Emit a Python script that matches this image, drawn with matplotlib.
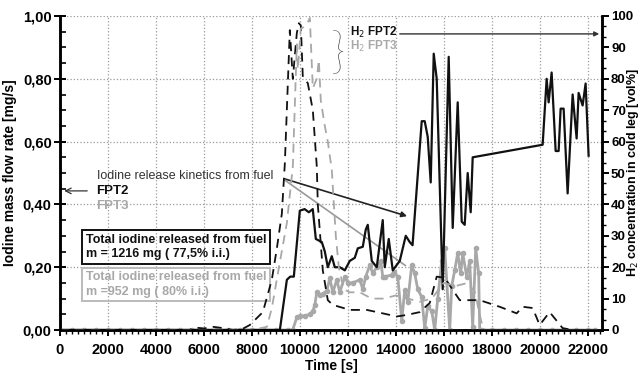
import numpy as np
import matplotlib
matplotlib.use("Agg")
import matplotlib.pyplot as plt
from matplotlib.ticker import MultipleLocator, AutoMinorLocator

plt.rcParams["font.family"] = ["Liberation Sans", "DejaVu Sans"]

# FPT2 iodine mass flow rate [mg/s] (left axis)
t_i2 = [0, 9167, 9460, 9600, 9750, 10000, 10200, 10375, 10540, 10667, 10917, 11042,
        11167, 11333, 11458, 11667, 11875, 12083, 12292, 12417, 12625, 12750, 12833,
        13000, 13208, 13458, 13542, 13708, 13875, 14167, 14417, 14583, 14700, 15083,
        15208, 15333, 15458, 15583, 15708, 15958, 16208, 16375, 16583, 16750, 16875,
        17000, 17125, 17208, 20125, 20292, 20375, 20500, 20667, 20792, 20875, 21000,
        21167, 21375, 21542, 21625, 21792, 21917, 22042]
i2 = [0, 0, 0.16, 0.17, 0.17, 0.38, 0.385, 0.375, 0.385, 0.29, 0.28, 0.25,
      0.20, 0.235, 0.20, 0.20, 0.19, 0.22, 0.23, 0.26, 0.265, 0.32, 0.335,
      0.22, 0.20, 0.35, 0.20, 0.29, 0.19, 0.22, 0.30, 0.28, 0.27, 0.665,
      0.665, 0.615, 0.47, 0.88, 0.80, 0.13, 0.87, 0.325, 0.725, 0.345, 0.335,
      0.50, 0.375, 0.55, 0.59, 0.80, 0.725, 0.82, 0.57, 0.57, 0.705, 0.705,
      0.435, 0.75, 0.61, 0.755, 0.715, 0.785, 0.555]

# FPT3 iodine mass flow rate [mg/s] (left axis)
t_i3 = [0, 500, 1000, 1500, 2000, 2500, 3000, 3500, 4000, 4500, 5000, 5500, 6000,
        6500, 7000, 7500, 8000, 8500, 9000, 9500, 9700, 9875, 10000, 10208, 10417,
        10542, 10625, 10708, 10833, 10958, 11125, 11250, 11375, 11542, 11667, 11875,
        12000, 12208, 12500, 12625, 12750, 12917, 13042, 13208, 13375, 13458, 13542,
        13833, 13917, 14083, 14250, 14375, 14500, 14667, 14792, 14917, 15083, 15208,
        15333, 15500, 15625, 15750, 15917, 16042, 16250, 16333, 16458, 16583, 16708,
        16792, 16958, 17083, 17208, 17333, 17458, 17500, 17600, 18000, 18500, 19000,
        19500, 20000, 20500, 21000, 21500, 22000, 22300]
i3 = [0, 0, 0, 0, 0, 0, 0, 0, 0, 0, 0, 0, 0,
      0, 0, 0, 0, 0, 0, 0, 0, 0.04, 0.045, 0.045, 0.05,
      0.06, 0.08, 0.12, 0.11, 0.115, 0.125, 0.165, 0.12, 0.16, 0.12, 0.17,
      0.15, 0.15, 0.16, 0.13, 0.17, 0.207, 0.18, 0.20, 0.22, 0.17, 0.17,
      0.175, 0.185, 0.17, 0.03, 0.127, 0.09, 0.207, 0.18, 0.13, 0.105, 0.005,
      0.075, 0.06, 0.0, 0.10, 0.22, 0.26, 0.0, 0.14, 0.19, 0.245, 0.18,
      0.245, 0.17, 0.22, 0.01, 0.26, 0.18, 0.0, 0, 0, 0, 0,
      0, 0, 0, 0, 0, 0, 0]

# H2 concentration in cold leg [vol%] (right axis)
t_h2 = [0, 5400, 5600, 6000, 6400, 6800, 7200, 7600, 7917, 8458, 8833, 9042, 9250,
        9375, 9583, 9708, 9875, 9958, 10042, 10125, 10333, 10542, 10708, 10750, 10958,
        11167, 11375, 12083, 12792, 13458, 14042, 14458, 15000, 15417, 15708, 16042,
        16667, 17500, 18333, 19042, 19292, 19708, 20000, 20417, 20958, 21375, 22083]
h2 = [0, 0, 0.8, 0.5, 1.0, 0.6, 0, 0.3, 1.6, 5.7, 16, 26, 37,
      53, 95.5, 80, 94.6, 97.7, 97, 80.6, 78.6, 70, 52, 40, 19,
      9.5, 8, 6.4, 6.4, 5.3, 4.3, 4.8, 5.7, 8.6, 17, 16.6,
      9.5, 9.5, 7.4, 5.3, 7.4, 7, 1.6, 5.7, 0.6, 0, 0]

t_h3 = [0, 8000, 8625, 8833, 9167, 9458, 9708, 9875, 9917, 10042, 10167, 10333, 10417,
        10542, 10708, 10792, 10875, 10958, 11042, 11167, 11333, 11500, 11625, 11833,
        12083, 12500, 12750, 13000, 13500, 14000, 14500, 15000, 15500, 16000, 16500,
        17000, 17300, 17500, 17650, 22300]
h3 = [0, 0, 1, 7, 21.6, 34, 52, 91, 83, 96, 96.5, 98, 99.4,
      77, 80, 86, 73, 69, 65, 60, 51, 30, 20, 13,
      12, 12, 11, 10, 10, 11, 10, 9, 10, 15, 14,
      15, 12, 5, 0, 0]

yticks_left = [0, 0.2, 0.4, 0.6, 0.8, 1.0]
ylabels_left = ["0,00", "0,20", "0,40", "0,60", "0,80", "1,00"]

black = "#111111"
grey = "#a8a8a8"

fig = plt.figure(figsize=(6.41, 3.76), dpi=100)
ax = fig.add_axes([60 / 641, 46 / 376, 542 / 641, 314 / 376])
ax2 = ax.twinx()

ax.plot(t_i2, i2, "-", color=black, lw=1.6, zorder=4)
ax.plot(t_i3, i3, "-", color=grey, lw=2.0, marker="o", ms=3, mfc=grey, mec=grey, zorder=3)
ax2.plot(t_h2, h2, "--", color=black, lw=1.3, dashes=(5, 3.5))
ax2.plot(t_h3, h3, "--", color=grey, lw=1.3, dashes=(5, 3.5))

ax.set_xlim(0, 22600)
ax.set_ylim(0, 1.0)
ax2.set_ylim(0, 100)

ax.xaxis.set_major_locator(MultipleLocator(2000))
ax.xaxis.set_minor_locator(MultipleLocator(250))
ax.set_yticks(yticks_left)
ax.set_yticklabels(ylabels_left)
ax.yaxis.set_minor_locator(AutoMinorLocator(4))
ax2.yaxis.set_major_locator(MultipleLocator(10))
ax2.yaxis.set_minor_locator(AutoMinorLocator(3))

ax.grid(True, which="major", linestyle=":", color="#9a9a9a", lw=0.9)

for a in (ax, ax2):
    for s in a.spines.values():
        s.set_linewidth(1.8)
    a.spines["top"].set_visible(False)

ax.tick_params(axis="y", which="major", direction="inout", length=8, width=1.4, labelsize=10.5, pad=2)
ax.tick_params(axis="y", which="minor", direction="in", length=4, width=1.2)
ax.tick_params(axis="x", which="major", direction="out", length=4, width=1.4, labelsize=10.5, pad=5)
ax.tick_params(axis="x", which="minor", direction="out", length=3, width=1.0)
ax2.tick_params(axis="y", which="major", direction="out", length=5, width=1.4, labelsize=9.5, pad=1.5)
ax2.tick_params(axis="y", which="minor", direction="out", length=3, width=1.0)

for lab in ax.get_xticklabels() + ax.get_yticklabels() + ax2.get_yticklabels():
    lab.set_fontweight("bold")

ax.set_xlabel("Time [s]", fontsize=10, fontweight="bold", labelpad=2)
ax.set_ylabel("Iodine mass flow rate [mg/s]", fontsize=10, fontweight="bold", labelpad=4)
ax2.set_ylabel("H$_2$ concentration in cold leg [vol%]", fontsize=9, fontweight="bold")
ax2.yaxis.set_label_coords(1.042, 0.5)

# annotations (left side)
ax.text(1540, 0.49, "Iodine release kinetics from fuel", fontsize=9, color="#333333", va="center")
ax.text(1500, 0.443, "FPT2", fontsize=9.5, fontweight="bold", color=black, va="center")
ax.annotate("", xy=(60, 0.443), xytext=(1250, 0.443),
            arrowprops=dict(arrowstyle="->", color="#333333", lw=0.9))
ax.text(1500, 0.395, "FPT3", fontsize=9.5, fontweight="bold", color=grey, va="center")
ax.annotate("", xy=(14583, 0.36), xytext=(9250, 0.484),
            arrowprops=dict(arrowstyle="-|>", color="#222222", lw=1.2, mutation_scale=8))
ax.annotate("", xy=(14500, 0.20), xytext=(9250, 0.484),
            arrowprops=dict(arrowstyle="-", color="#999999", lw=1.2))

ax.text(1080, 0.264, "Total iodine released from fuel\nm = 1216 mg ( 77,5% i.i.)",
        fontsize=9, fontweight="bold", color=black, va="center", linespacing=1.25,
        bbox=dict(boxstyle="square,pad=0.3", fc="none", ec=black, lw=1.4))
ax.text(1080, 0.145, "Total iodine released from fuel\nm =952 mg ( 80% i.i.)",
        fontsize=9, fontweight="bold", color=grey, va="center", linespacing=1.25,
        bbox=dict(boxstyle="square,pad=0.3", fc="none", ec="#bbbbbb", lw=1.4))

# annotations (H2)
ax2.text(12083, 94.8, "H$_2$ FPT2", fontsize=8.5, fontweight="bold", color=black, va="center")
ax2.text(12083, 90.3, "H$_2$ FPT3", fontsize=8.5, fontweight="bold", color=grey, va="center")
ax2.annotate("", xy=(22600, 94.3), xytext=(14050, 94.3),
             arrowprops=dict(arrowstyle="-|>", color="#333333", lw=1.0, mutation_scale=7),
             annotation_clip=False)
ax2.text(11300, 87.5, "}", fontsize=36, color="#222222", va="center", ha="left",
         family=["Lato", "Liberation Sans"], fontweight="light")

fig.savefig("out.png", dpi=100)
